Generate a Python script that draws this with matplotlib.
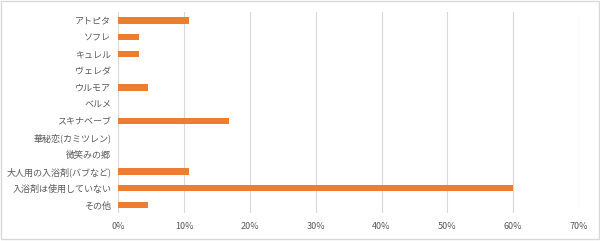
import numpy as np
import matplotlib.pyplot as plt
from matplotlib.ticker import PercentFormatter

plt.rcParams['font.family'] = ['Noto Sans CJK JP', 'DejaVu Sans']

# data (top to bottom as shown)
labels = ['アトピタ', 'ソフレ', 'キュレル', 'ヴェレダ', 'ウルモア', 'ベルメ',
          'スキナベーブ', '華秘恋(カミツレン)', '微笑みの郷',
          '大人用の入浴剤(バブなど)', '入浴剤は使用していない', 'その他']
values = [0.108, 0.031, 0.031, 0.0, 0.046, 0.0,
          0.169, 0.0, 0.0, 0.108, 0.60, 0.046]

fig = plt.figure(figsize=(6.0, 2.41), dpi=100)
ax = fig.add_axes([0.197, 0.115, 0.768, 0.835])

y = np.arange(len(labels))
ax.barh(y, values, height=0.38, color='#ED7D31', zorder=3)
ax.set_yticks(y)
ax.set_yticklabels(labels)
ax.set_ylim(len(labels) - 0.5, -0.5)

ax.set_xlim(0, 0.7)
ax.set_xticks(np.arange(0, 0.71, 0.1))
ax.xaxis.set_major_formatter(PercentFormatter(1.0, decimals=0))
ax.grid(axis='x', color='#d9d9d9', linewidth=0.8, zorder=0)

for s in ax.spines.values():
    s.set_visible(False)
ax.tick_params(axis='both', length=0, labelsize=6.5, colors='#595959', pad=6)
ax.tick_params(axis='y', pad=5)

# light frame around the chart
fig.patches.append(plt.Rectangle((0.002, 0.01), 0.996, 0.985, transform=fig.transFigure,
                                 fill=False, edgecolor='#d9d9d9', linewidth=1))

fig.savefig('out.png', dpi=100)
